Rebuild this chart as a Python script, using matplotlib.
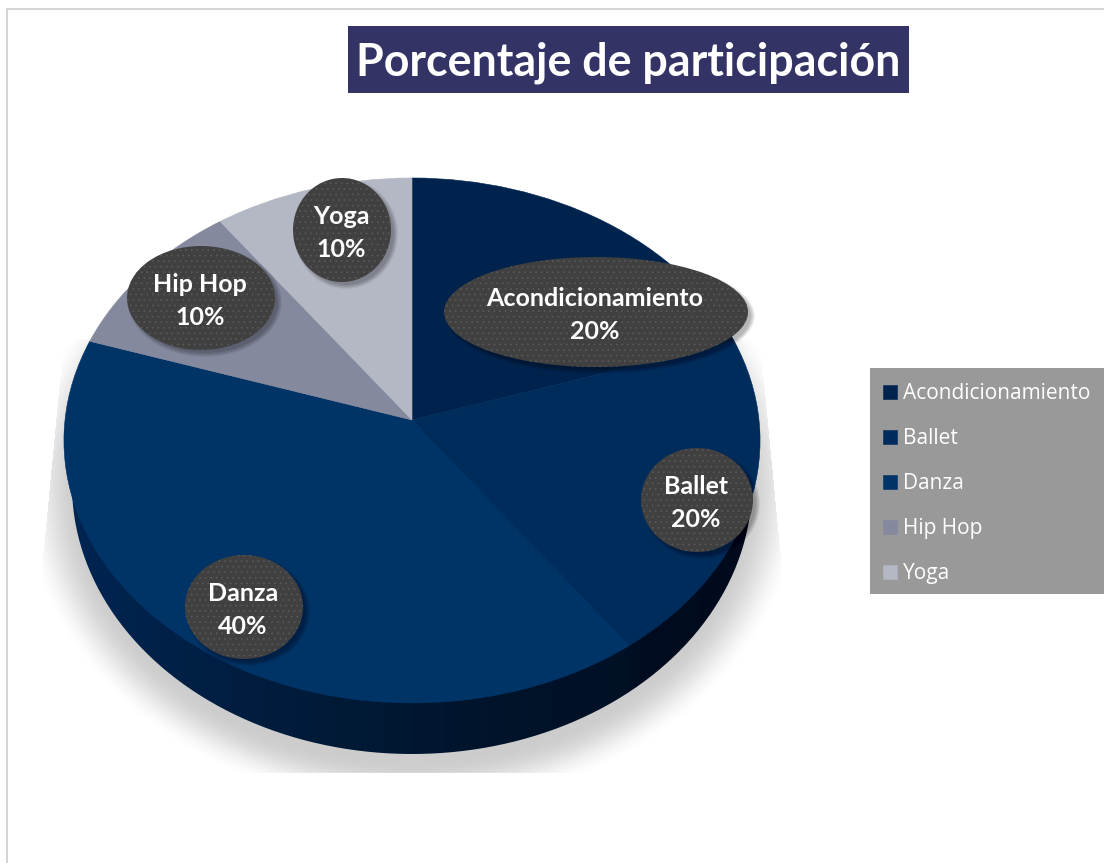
import numpy as np
import matplotlib
matplotlib.use("Agg")
import matplotlib.pyplot as plt
from matplotlib.patches import Ellipse, Rectangle
from matplotlib.path import Path
from matplotlib.transforms import Transform
from matplotlib.colors import LinearSegmentedColormap

categories = ["Acondicionamiento", "Ballet", "Danza", "Hip Hop", "Yoga"]
values = [20, 20, 40, 10, 10]
slice_colors = ["#00234d", "#002c5c", "#003366", "#84899e", "#b4b8c4"]
title = "Porcentaje de participación"

# label ellipses: centre x, centre y, half width, half height (pixels)
label_boxes = [(596, 312, 152, 55), (697, 500, 56, 52), (244, 607, 59, 52),
               (201, 298, 74, 52), (342, 230, 49, 52)]

W, H = 1104, 863
plt.rcParams["hatch.linewidth"] = 0.5
fig = plt.figure(figsize=(W / 100, H / 100), dpi=100)
ax = fig.add_axes([0, 0, 1, 1])


class Perspective(Transform):
    """Tilted-disc projection of the unit pie into figure pixels."""
    input_dims = output_dims = 2
    is_affine = False
    has_inverse = False
    k, A, B, cx, cy = 0.078, 260.9, 347.0, 412.0, 420.0

    def transform_non_affine(self, values):
        v = np.asarray(values, float)
        d = 1 + self.k * v[:, 1]
        return np.column_stack([self.cx + self.B * v[:, 0] / d,
                                self.cy - self.A * v[:, 1] / d])


wedges, _ = ax.pie(values, colors=slice_colors, startangle=90, counterclock=False,
                   wedgeprops=dict(linewidth=0.4))
persp = Perspective() + ax.transData
for w, c in zip(wedges, slice_colors):
    w.set_transform(persp)
    w.set_zorder(3)
    w.set_edgecolor(c)

# soft floor shadow
X, Y = np.meshgrid(np.arange(W) + .5, np.arange(H) + .5)
d = np.sqrt(((X - 412) / 392) ** 2 + ((Y - 490) / 320) ** 2)
alpha = np.clip((1.0 - d) / 0.15, 0, 1)
alpha = alpha * alpha * (3 - 2 * alpha)
left = 64 - (Y - 340) * 23 / 240
right = 760 + (Y - 340) * 23 / 240
alpha[(X < left) | (X > right) | (Y < 340) | (Y > 773)] = 0
rgba = np.zeros((H, W, 4))
rgba[..., 3] = alpha * 0.20
ax.imshow(rgba, extent=(0, W, H, 0), aspect="auto", zorder=1, interpolation="bilinear")

# pie side wall
wall_cmap = LinearSegmentedColormap.from_list(
    "wall",
    [(0.0, "#002552"), (0.2, "#001f44"), (0.4, "#001a36"), (0.6, "#00142b"),
     (0.81, "#001025"), (0.83, "#000c20"), (1.0, "#000a1c")])
grad = np.linspace(0, 1, 512).reshape(1, -1)
wall = ax.imshow(grad, extent=(64, 760, 760, 430), aspect="auto", cmap=wall_cmap, zorder=2)
t = np.linspace(0, np.pi, 200)
low = np.column_stack([412 + 340 * np.cos(t), 485 + 269 * np.sin(t)])
outline = np.vstack([[[412, 430], [760, 430], [760, 440], [752, 485]], low[1:-1],
                     [[72, 485], [64, 440], [64, 430], [412, 430]]])
wall.set_clip_path(Path(outline), ax.transData)

ax.set_aspect("auto")
ax.set_xlim(0, W)
ax.set_ylim(H, 0)
ax.set_axis_off()

# chart frame
ax.plot([6.8, 6.8, W], [H, 9.5, 9.5], color="#d4d4d4", lw=1.4, zorder=1)

# title
ax.add_patch(Rectangle((348, 26), 561, 67, fc="#333366", ec="none", zorder=6))
ax.text(628.5, 63, title, color="white", fontsize=32.2, fontweight="bold",
        family="Lato", ha="center", va="center", zorder=7)

# data labels
for cat, val, (cx, cy, rx, ry) in zip(categories, values, label_boxes):
    for i in range(10):
        grow = (10 - i) * 1.0 - 4
        ax.add_patch(Ellipse((cx + 4, cy + 4), 2 * rx + grow, 2 * ry + grow,
                             fc="black", ec="none", alpha=0.03, zorder=4))
    ax.add_patch(Ellipse((cx, cy), 2 * rx, 2 * ry, fc="#404040", ec="none", zorder=5))
    ax.add_patch(Ellipse((cx, cy), 2 * rx, 2 * ry, fc="none", ec="#5a5a5a", lw=0,
                         hatch="...", zorder=5))
    ax.text(cx - 1, cy - 14, cat, color="white", fontsize=18, fontweight="bold", family="Lato",
            ha="center", va="center", zorder=6)
    ax.text(cx - 1, cy + 19, f"{val}%", color="white", fontsize=18, fontweight="bold", family="Lato",
            ha="center", va="center", zorder=6)

# legend
fs = 15
ax.add_patch(Rectangle((870, 368), 234, 226, fc="#999999", ec="none", zorder=7))
leg = ax.legend(wedges, categories, loc="upper left",
                bbox_to_anchor=(869, 369), bbox_transform=ax.transData,
                prop=dict(family="Open Sans", size=fs), labelcolor="white",
                handlelength=10.08 / fs, handleheight=10.08 / fs, handletextpad=0.3,
                labelspacing=1.155, borderpad=0.68, borderaxespad=0, frameon=False)
leg.set_zorder(8)

fig.savefig("out.png", dpi=100)
